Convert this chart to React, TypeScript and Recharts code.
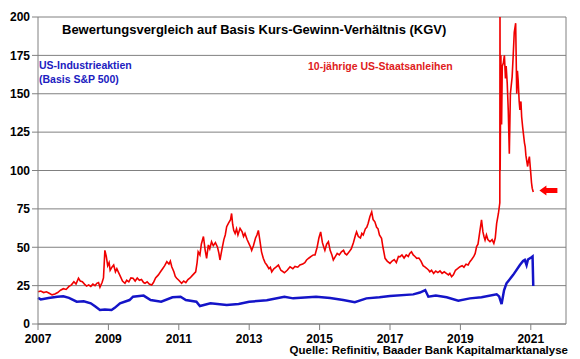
import React from 'react'
import {
  LineChart,
  Line,
  XAxis,
  YAxis,
  CartesianGrid,
  ReferenceLine,
  ReferenceDot
} from 'recharts'

// 10-jährige US-Staatsanleihen (KGV = 1 / Rendite)
const bondYears = [
  2007.0, 2007.08, 2007.16, 2007.24, 2007.32, 2007.4, 2007.48, 2007.56, 2007.64, 2007.72,
  2007.8, 2007.88, 2007.95, 2008.02, 2008.08, 2008.15, 2008.2, 2008.26, 2008.32, 2008.38,
  2008.44, 2008.5, 2008.56, 2008.62, 2008.67, 2008.72, 2008.76, 2008.82, 2008.86, 2008.9,
  2008.94, 2008.98, 2009.02, 2009.05, 2009.1, 2009.15, 2009.2, 2009.24, 2009.28, 2009.34,
  2009.4, 2009.47, 2009.52, 2009.58, 2009.64, 2009.7, 2009.76, 2009.82, 2009.88, 2009.94,
  2010.0, 2010.04, 2010.1, 2010.16, 2010.23, 2010.28, 2010.34, 2010.42, 2010.48, 2010.54,
  2010.6, 2010.66, 2010.72, 2010.76, 2010.8, 2010.86, 2010.9, 2010.94, 2011.0, 2011.08,
  2011.14, 2011.2, 2011.26, 2011.32, 2011.38, 2011.44, 2011.48, 2011.52, 2011.55, 2011.6,
  2011.64, 2011.7, 2011.75, 2011.79, 2011.84, 2011.88, 2011.93, 2011.98, 2012.04, 2012.1,
  2012.14, 2012.17, 2012.22, 2012.28, 2012.32, 2012.36, 2012.42, 2012.47, 2012.5, 2012.53,
  2012.56, 2012.6, 2012.64, 2012.68, 2012.74, 2012.8, 2012.84, 2012.88, 2012.94, 2013.0,
  2013.04, 2013.07, 2013.12, 2013.18, 2013.22, 2013.26, 2013.3, 2013.35, 2013.4, 2013.45,
  2013.5, 2013.56, 2013.6, 2013.64, 2013.7, 2013.76, 2013.83, 2013.9, 2014.0, 2014.08,
  2014.16, 2014.24, 2014.3, 2014.38, 2014.44, 2014.52, 2014.58, 2014.63, 2014.7, 2014.76,
  2014.82, 2014.87, 2014.93, 2014.98, 2015.03, 2015.08, 2015.12, 2015.15, 2015.2, 2015.25,
  2015.3, 2015.35, 2015.39, 2015.45, 2015.5, 2015.56, 2015.62, 2015.68, 2015.72, 2015.77,
  2015.84, 2015.9, 2015.96, 2016.02, 2016.05, 2016.1, 2016.16, 2016.2, 2016.24, 2016.3,
  2016.34, 2016.38, 2016.43, 2016.48, 2016.52, 2016.57, 2016.62, 2016.66, 2016.7, 2016.76,
  2016.8, 2016.86, 2016.92, 2017.0, 2017.06, 2017.12, 2017.18, 2017.24, 2017.28, 2017.34,
  2017.4, 2017.46, 2017.52, 2017.56, 2017.61, 2017.66, 2017.71, 2017.76, 2017.82, 2017.88,
  2017.94, 2018.0, 2018.04, 2018.1, 2018.13, 2018.18, 2018.24, 2018.3, 2018.36, 2018.42,
  2018.48, 2018.54, 2018.6, 2018.66, 2018.7, 2018.75, 2018.8, 2018.86, 2018.92, 2018.99,
  2019.05, 2019.1, 2019.16, 2019.22, 2019.27, 2019.32, 2019.38, 2019.42, 2019.46, 2019.5,
  2019.55, 2019.6, 2019.64, 2019.67, 2019.7, 2019.74, 2019.78, 2019.84, 2019.9, 2019.95,
  2019.99, 2020.03, 2020.08, 2020.12, 2020.125, 2020.13, 2020.15, 2020.17, 2020.19, 2020.22,
  2020.25, 2020.28, 2020.3, 2020.33, 2020.36, 2020.39, 2020.42, 2020.47, 2020.5, 2020.53,
  2020.57, 2020.6, 2020.62, 2020.64, 2020.67, 2020.69, 2020.72, 2020.74, 2020.77, 2020.79,
  2020.82, 2020.84, 2020.86, 2020.88, 2020.91, 2020.93, 2020.96, 2021.0, 2021.02, 2021.04,
  2021.07
]
const bondPE = [
  21, 21.5, 20.5, 21, 20, 19, 19.5, 20.5, 22, 23,
  22.5, 24.5, 25.5, 27.5, 26, 29.8, 28, 27.5, 26, 24.7,
  25.5, 24.5, 26, 25, 26.5, 27, 24, 27, 30, 48,
  44, 38, 40, 35, 37, 38.4, 34, 36, 34, 31,
  28, 26.5, 28.5, 27.5, 30, 29.8, 28, 30, 28.5, 29,
  27, 26.5, 27.5, 26, 25.4, 27, 30, 32, 34, 36,
  38, 40.6, 39, 41, 37.3, 34, 31, 29.8, 28.5, 26.5,
  28, 27, 29, 30, 31.5, 33, 34, 40, 47, 45,
  52, 57, 48, 42.8, 51.5, 49, 53.6, 51, 53, 50,
  46, 41.7, 48, 55, 58, 63.4, 66, 68, 72, 65,
  61, 59, 62, 58, 62.3, 60, 57, 59, 55, 52,
  50, 48, 51, 56, 58, 61, 55, 47, 42.8, 40,
  38.4, 36, 37, 34, 36, 37, 38.4, 35, 33.4, 35,
  37.3, 36, 37.5, 37, 38.4, 39, 40, 41.7, 43, 44,
  45, 45, 50, 56, 60, 53, 50, 48, 52, 53.6,
  48, 45, 41.7, 44, 46, 45, 47, 48, 46, 45,
  47, 49, 53, 58, 60, 57, 56, 59, 58, 62,
  63, 65.6, 70, 73, 68, 66.6, 63, 62, 58, 55.8,
  50, 42.8, 41, 39.5, 41, 42, 40, 44, 43.8, 45,
  43, 45, 44, 46, 47, 45, 44, 42.8, 43, 41,
  38, 37, 36.3, 35, 34, 35, 33, 34.5, 33.5, 34.6,
  33, 34, 33, 32, 33, 30.8, 32, 35, 36, 37.3,
  38, 37, 39, 38.5, 40.6, 42, 44, 46, 50.4, 52,
  60, 67.8, 60, 57, 54.7, 58, 55, 53.6, 55, 52.5,
  56, 65.6, 72, 79, 210, 100, 175, 130, 168, 170,
  175, 160, 168, 157, 139, 111, 150, 161, 175, 190,
  196, 150, 165, 159, 145, 139.5, 145, 135, 128, 124,
  118, 115.6, 110, 107, 102.6, 106, 109, 98, 92, 88.5,
  86
]

// US-Industrieaktien (Basis S&P 500)
const stockYears = [
  2007.0, 2007.08, 2007.3, 2007.55, 2007.72, 2007.88, 2008.1, 2008.3, 2008.5, 2008.62,
  2008.76, 2008.9, 2009.09, 2009.18, 2009.33, 2009.6, 2009.7, 2010.0, 2010.2, 2010.5,
  2010.82, 2011.05, 2011.2, 2011.5, 2011.6, 2011.9, 2012.36, 2012.7, 2013.0, 2013.5,
  2014.0, 2014.25, 2014.9, 2015.3, 2015.67, 2016.0, 2016.33, 2016.7, 2017.0, 2017.66,
  2017.85, 2018.0, 2018.09, 2018.3, 2018.61, 2018.94, 2019.27, 2019.6, 2020.03, 2020.1,
  2020.17, 2020.24, 2020.31, 2020.5, 2020.69, 2020.78, 2020.83, 2020.88, 2020.92, 2021.02,
  2021.05, 2021.07
]
const stockPE = [
  17, 16, 17, 17.8, 18, 17, 14.5, 14.8, 13.5, 11.5,
  9.1, 9.5, 9.1, 10.5, 13.5, 15.6, 17.8, 18.5, 15.6, 14.5,
  17.4, 17.8, 15.6, 14.5, 11.7, 13.5, 12.4, 13, 14.5, 15.5,
  17.8, 16.7, 17.8, 17, 15.6, 14.2, 16.7, 17.4, 18.2, 19.3,
  20.5, 22.1, 17.8, 18.5, 17.4, 15.2, 16.7, 17.5, 19.3, 18,
  13, 22, 26.5, 32, 38.4, 41, 41.7, 38.4, 42, 43.5,
  44, 24.7
]

const yTicks = [0, 25, 50, 75, 100, 125, 150, 175, 200]
const xTicks = [2007, 2009, 2011, 2013, 2015, 2017, 2019, 2021]

const bondData = bondYears.map((year, i) => ({ year, pe: bondPE[i] }))
const stockData = stockYears.map((year, i) => ({ year, pe: stockPE[i] }))

const font = '"Liberation Sans", Arial, sans-serif'
const tickStyle = { fontSize: 12, fontWeight: 'bold', fill: '#000', fontFamily: font }

// red block arrow pointing at the latest value
const Arrow = (props: any) => {
  const { cx, cy } = props
  const tip = cx - 9
  return (
    <polygon
      points={`${tip},${cy} ${tip + 7},${cy - 5} ${tip + 7},${cy - 2.5} ${cx + 9},${cy - 2.5} ${cx + 9},${cy + 2.5} ${tip + 7},${cy + 2.5} ${tip + 7},${cy + 5}`}
      fill="#ff0000"
    />
  )
}

const App = () => {
  return (
    <div style={{ position: 'absolute', left: 0, top: 0, width: 580, height: 359, background: '#fff', fontFamily: font }}>
      <LineChart width={580} height={359} margin={{ top: 17, right: 14, bottom: 0, left: 0 }}>
        <CartesianGrid vertical={false} stroke="#808080" />
        <XAxis
          type="number"
          dataKey="year"
          domain={[2007, 2022]}
          ticks={xTicks}
          height={35}
          tickMargin={4}
          stroke="#808080"
          tick={tickStyle}
          allowDuplicatedCategory={false}
        />
        <YAxis
          domain={[0, 200]}
          ticks={yTicks}
          width={38}
          allowDataOverflow
          stroke="#808080"
          tick={tickStyle}
        />
        <ReferenceLine x={2022} stroke="#808080" />
        <Line
          data={bondData}
          dataKey="pe"
          type="linear"
          stroke="#f00000"
          strokeWidth={1.6}
          dot={false}
          isAnimationActive={false}
        />
        <Line
          data={stockData}
          dataKey="pe"
          type="linear"
          stroke="#1414c8"
          strokeWidth={2.5}
          dot={false}
          isAnimationActive={false}
        />
        <ReferenceDot x={2021.5} y={87} r={0} shape={Arrow} />
      </LineChart>
      <div style={{ position: 'absolute', left: 62, top: 22, fontSize: 13, fontWeight: 'bold', color: '#000', whiteSpace: 'nowrap' }}>
        Bewertungsvergleich auf Basis Kurs-Gewinn-Verhältnis (KGV)
      </div>
      <div style={{ position: 'absolute', left: 39, top: 58, fontSize: 10.5, fontWeight: 'bold', color: '#2020c0', lineHeight: '14px', whiteSpace: 'nowrap' }}>
        US-Industrieaktien<br />(Basis S&amp;P 500)
      </div>
      <div style={{ position: 'absolute', left: 308, top: 60, fontSize: 10.5, fontWeight: 'bold', color: '#e02020', whiteSpace: 'nowrap' }}>
        10-jährige US-Staatsanleihen
      </div>
      <div style={{ position: 'absolute', right: 12, top: 344, fontSize: 11.5, fontWeight: 'bold', color: '#000', whiteSpace: 'nowrap' }}>
        Quelle: Refinitiv, Baader Bank Kapitalmarktanalyse
      </div>
    </div>
  )
}

export default App
